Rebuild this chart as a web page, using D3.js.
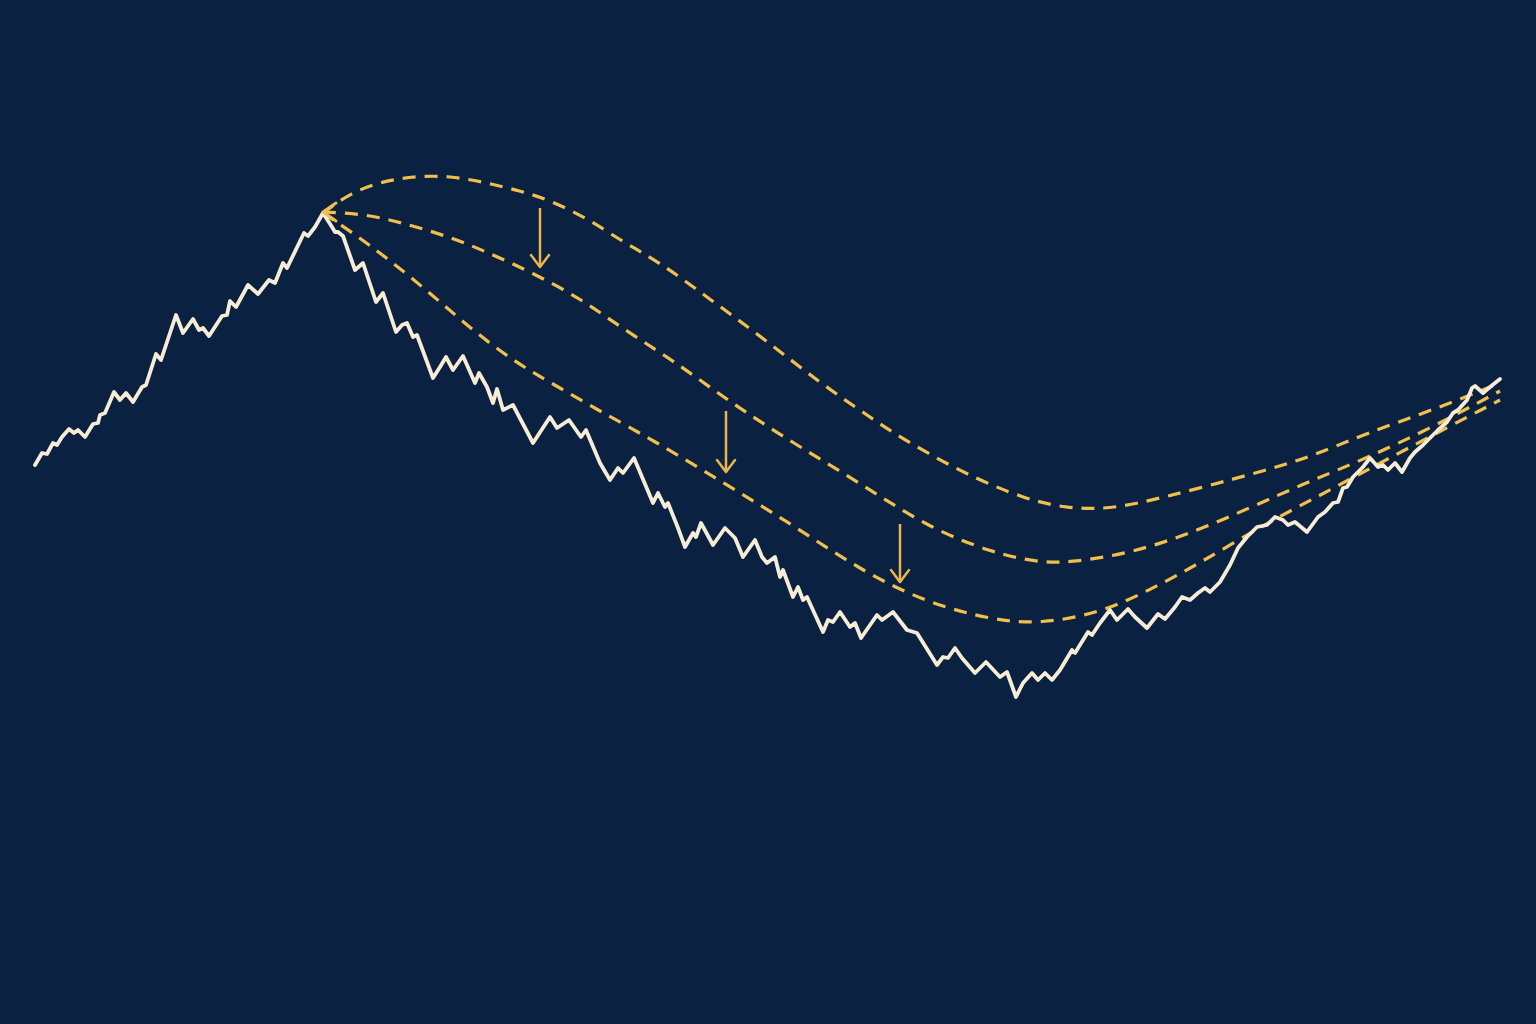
<!DOCTYPE html>
<html>
<head>
<meta charset="utf-8">
<script src="https://cdn.jsdelivr.net/npm/d3@7"></script>
<style>
  html, body { margin: 0; padding: 0; background: #0a2142; }
  svg { display: block; }
</style>
</head>
<body>
<svg id="chart" width="1536" height="1024"></svg>
<script>
// ---- Data ----
// Trading day index and index level of the actual path
const days = [0,7,12,18,22,27,34,39,43,50,58,63,65,70,79,85,91,98,107,111,121,126,141,148,158,164,168,174,187,192,195,201,213,223,234,240,248,252,269,273,280,288,
  297,300,303,308,320,328,341,348,361,367,372,378,382,398,405,411,418,428,440,444,452,458,462,468,478,498,515,522,534,546,551,565,575,583,588,599,610,618,623,630,633,643,
  650,658,661,666,678,690,700,708,720,727,732,740,745,748,758,763,768,772,788,793,798,805,815,820,826,842,847,858,872,882,902,908,913,920,927,940,951,965,972,981,988,997,1003,1010,1017,1025,
  1037,1040,1053,1057,1065,1075,1082,1093,1100,1112,1123,1130,1140,1147,1155,1163,1170,1175,1185,1195,1203,1212,1222,1232,1240,1248,1253,1260,1272,1283,1290,1298,1303,1308,1312,1318,1328,1335,
  1343,1348,1353,1360,1367,1375,1380,1388,1398,1403,1412,1418,1423,1432,1437,1440,1448,1455,1465];
const level = [108.75,111.75,111.5,114.25,113.75,115.75,117.75,116.75,117.5,115.75,119,119.25,121.25,121.75,127,125,126.75,124.5,128.25,128.75,136.5,135,146.25,141.75,145.25,142.5,143,141,146,146.25,149.75,148.25,153.75,151.5,155,154.25,159.25,158,166.75,166,168.25,171.75,
  168.25,167,167,166,157.5,159.25,149.5,151.75,142,143.75,144.25,140.75,141.25,130.5,133.25,135.75,132.5,136,129.25,131.75,128.25,124.25,127.75,122.5,123.75,114.25,120.75,118,120,115.75,117.5,109.25,105,108,106.75,110.5,104,99.25,101.75,98.25,99.25,93,
  88.25,91.75,90.75,94.25,88.75,93,90.5,85.75,90,85.75,84.25,85.75,80.75,82.5,75.75,78.25,75,75.75,67,70,69.5,72,68.25,69.25,65.5,71.25,70,72,67.5,66.75,58.75,60.75,60.5,63,60.5,56.75,59.5,55.75,57,50.75,54.25,56.75,55,56.75,55,57.5,
  62.5,61.75,67,66.25,69.25,72.5,70,72.75,70.75,68,71.5,70.25,73.25,75.75,75,76.75,78,77,79.5,83.75,88,90.75,93.25,93.75,95.75,95,93.75,94.5,92,95.75,97,99.25,99.5,103,103.25,105.75,108.25,110.5,
  108.25,108.75,107.5,109.25,107,110.5,112,113.75,116.25,117.5,119.5,121.75,122.5,125,128,128.5,126.75,128.25,130.25];

// Recovery scenario paths from the peak (dashed)
const scenarioUpperDays  = [288,315,348,382,415,448,482,515,555,585,610,638,672,728,785,835,858,925,992,1032,1065,1098,1165,1232,1278,1332,1398,1465];
const scenarioUpperLevel = [171.75,176.75,179.75,181,181,179.5,177.5,175,170,165,161.5,157,150.75,140.5,129.25,120.75,116.75,107,100,98,97.75,98.75,103,107.5,111,116.75,122.5,129.25];
const scenarioMidDays    = [288,332,375,415,452,498,548,585,642,692,758,825,892,958,1002,1032,1098,1165,1232,1278,1332,1398,1465];
const scenarioMidLevel   = [172,171.5,168.75,165.75,162,156.75,150,143.25,134.25,125,114.25,104.25,93.25,86.75,84.5,84.25,86.75,92.5,100,105,110.5,118.25,127.25];
const scenarioLowDays    = [288,318,352,395,435,478,518,568,618,692,758,825,892,958,1005,1065,1115,1165,1232,1282,1332,1398,1465];
const scenarioLowLevel   = [171.75,166.75,160.5,151.75,143,134.75,129,121.75,115,103.75,93.75,82.5,74.25,70,69,71.75,77.5,84.25,94.25,100.75,107.5,116.25,125];

// Downgrade arrows: day, from level, to level
const arrowDays = [505, 691, 865];
const arrowFrom = [173, 122.25, 94];
const arrowTo   = [158.25, 107, 79.5];

// ---- Drawing ----
const W = 1536, H = 1024;
const svg = d3.select('#chart');
svg.append('rect').attr('width', W).attr('height', H).attr('fill', '#0a2142');

const x = d3.scaleLinear().domain([0, 1465]).range([35, 1500]);
const y = d3.scaleLinear().domain([0, 200]).range([900, 100]);

const gold = '#f1bf4c';
const cream = '#f7ecd6';

const lineCurve = d3.line().x(d => x(d[0])).y(d => y(d[1])).curve(d3.curveBasis);

const scenarios = [
  d3.zip(scenarioUpperDays, scenarioUpperLevel),
  d3.zip(scenarioMidDays, scenarioMidLevel),
  d3.zip(scenarioLowDays, scenarioLowLevel)
];

svg.append('g').selectAll('path').data(scenarios).join('path')
  .attr('d', lineCurve)
  .attr('fill', 'none')
  .attr('stroke', gold)
  .attr('stroke-width', 3.2)
  .attr('stroke-dasharray', '13 9');

// Actual path
const pathLine = d3.line().x(d => x(d[0])).y(d => y(d[1])).curve(d3.curveLinear);
svg.append('path')
  .datum(d3.zip(days, level))
  .attr('d', pathLine)
  .attr('fill', 'none')
  .attr('stroke', cream)
  .attr('stroke-width', 3.8)
  .attr('stroke-linejoin', 'round')
  .attr('stroke-linecap', 'round');

// Chevron at the peak (start of scenarios)
const px = x(scenarioMidDays[0]), py = y(scenarioMidLevel[0]);
svg.append('path')
  .attr('d', `M${px + 13},${py - 9} L${px},${py} L${px + 13},${py + 9}`)
  .attr('fill', 'none')
  .attr('stroke', gold)
  .attr('stroke-width', 3)
  .attr('stroke-linecap', 'round')
  .attr('stroke-linejoin', 'round');

// Down arrows
const arrows = arrowDays.map((d, i) => ({ d, from: arrowFrom[i], to: arrowTo[i] }));
const ag = svg.append('g').selectAll('g').data(arrows).join('g');
ag.append('line')
  .attr('x1', a => x(a.d)).attr('x2', a => x(a.d))
  .attr('y1', a => y(a.from)).attr('y2', a => y(a.to))
  .attr('stroke', '#eab54e').attr('stroke-width', 2.5);
ag.append('path')
  .attr('d', a => {
    const ax = x(a.d), ay = y(a.to);
    return `M${ax - 9},${ay - 12} L${ax},${ay} L${ax + 9},${ay - 12}`;
  })
  .attr('fill', 'none')
  .attr('stroke', '#eab54e')
  .attr('stroke-width', 2.5)
  .attr('stroke-linecap', 'round')
  .attr('stroke-linejoin', 'round');
</script>
</body>
</html>
